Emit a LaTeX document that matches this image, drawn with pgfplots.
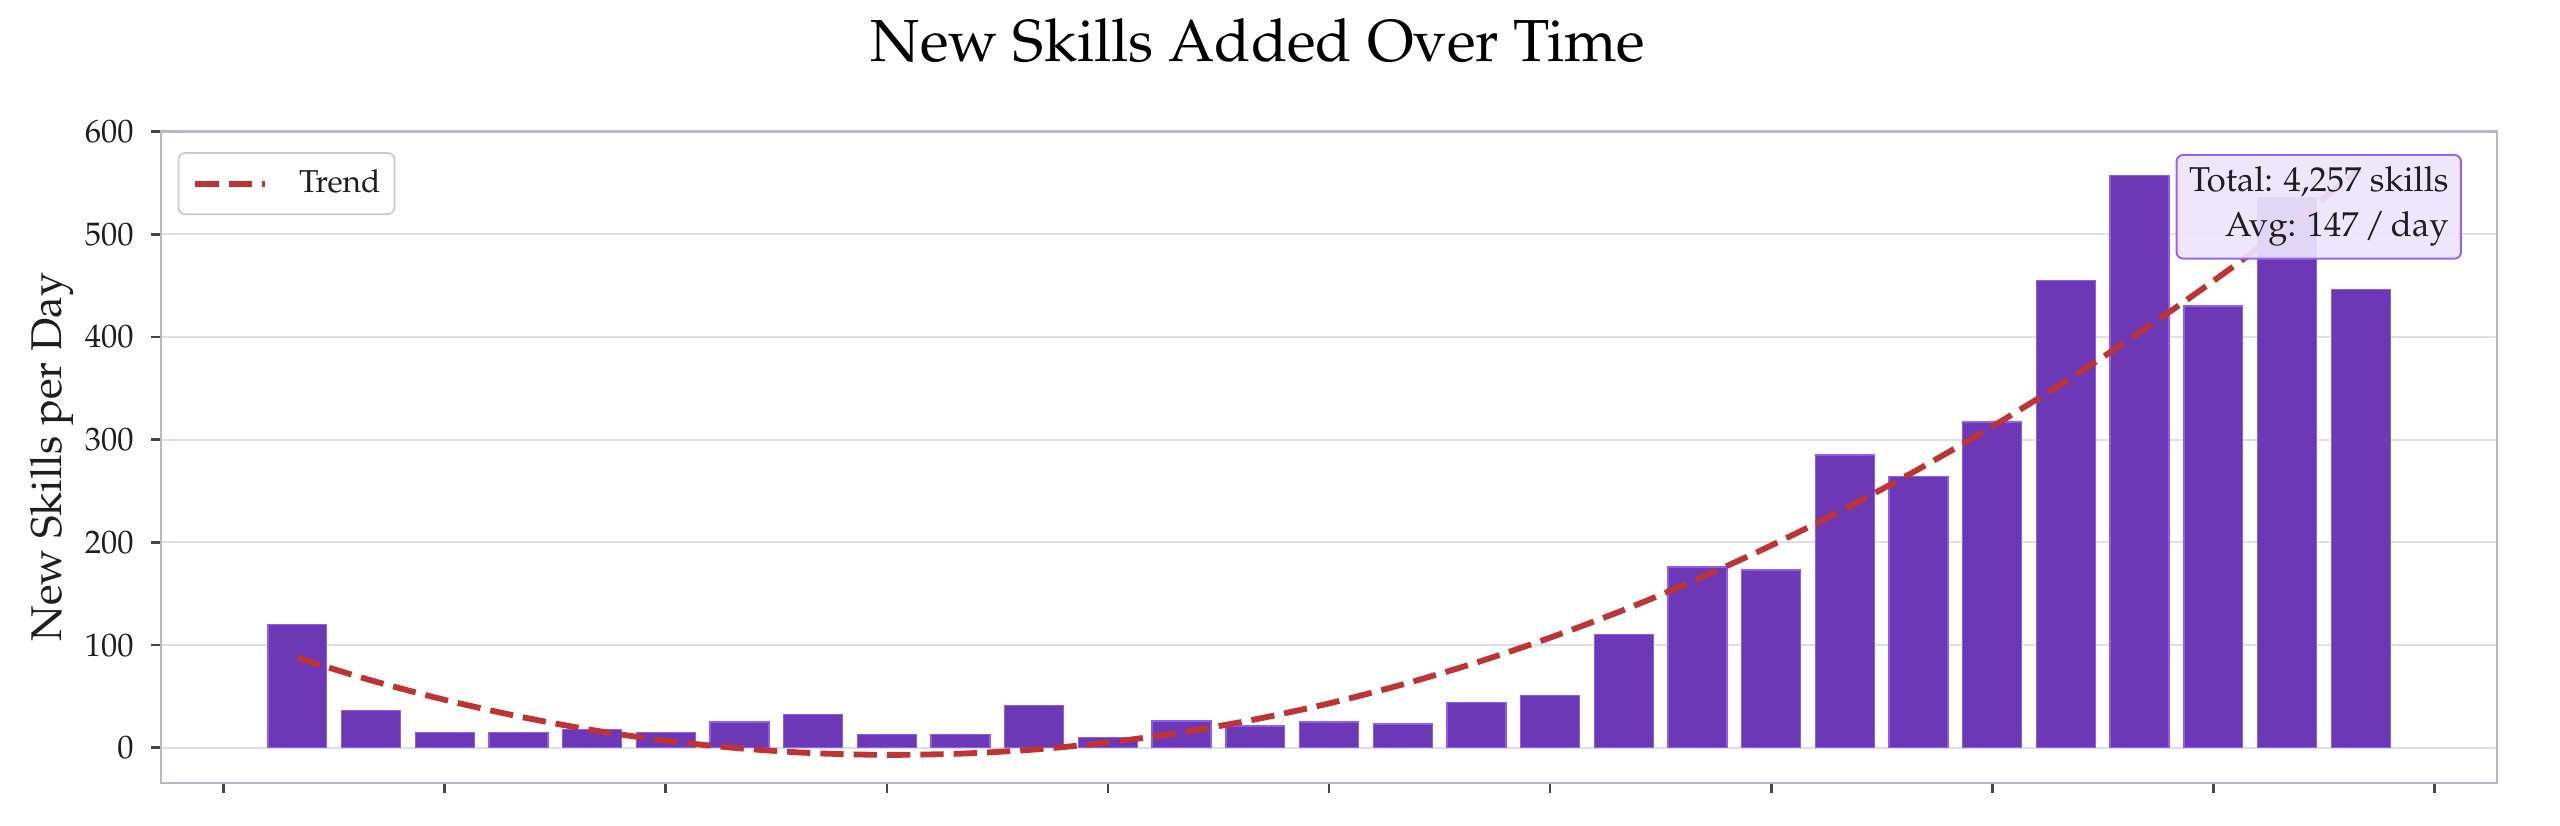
\documentclass[border=0pt]{standalone}
\usepackage[T1]{fontenc}
\usepackage{mathpazo}
\usepackage{pgfplots}
\usepackage{pgfplotstable}
\pgfplotsset{compat=1.18}

\definecolor{barfill}{RGB}{108,56,182}
\definecolor{baredge}{RGB}{139,92,246}
\definecolor{trendred}{RGB}{190,52,52}
\definecolor{spine}{RGB}{184,184,198}
\definecolor{gridc}{RGB}{222,222,230}
\definecolor{tickc}{RGB}{70,70,70}
\definecolor{txt}{RGB}{30,30,30}
\definecolor{boxfill}{RGB}{237,228,252}
\definecolor{boxedge}{RGB}{150,100,240}
\definecolor{legedge}{RGB}{200,200,212}

% new skills per day (day index from first day)
\pgfplotstableread{
day skills
0 120
1 36
2 15
3 15
4 18
5 15
6 25
7 32
8 13
9 13
10 41
11 10
12 26
13 21
14 25
15 23
16 44
17 51
18 110
19 176
20 173
21 285
22 264
23 317
24 455
25 557
26 430
27 536
28 446
}\skillsdata

% trend line
\pgfplotstableread{
day trend
0 87.5
1 65.6
2 46.6
3 30.5
4 17.2
5 6.8
6 -0.6
7 -5.3
8 -7.0
9 -5.8
10 -1.8
11 5.1
12 14.9
13 27.6
14 43.1
15 61.6
16 82.9
17 107.1
18 134.1
19 164.1
20 196.9
21 232.6
22 271.2
23 312.7
24 357.0
25 404.3
26 454.4
27 507.4
28 563.3
}\trenddata

\begin{document}
\begin{tikzpicture}
\begin{axis}[
  scale only axis,
  width=700.8pt, height=195.45pt,
  xmin=-1.85, xmax=29.85,
  ymin=-34.4, ymax=600,
  xtick={-1,2,...,29},
  xticklabels={},
  ytick={0,100,...,600},
  tick align=outside,
  xtick pos=left, ytick pos=left,
  major tick length=3pt,
  every tick/.style={tickc, line width=0.8pt},
  axis line style={spine, line width=0.75pt},
  ymajorgrids,
  grid style={gridc, line width=0.6pt},
  yticklabel style={font=\fontsize{9.75}{11}\selectfont, text=txt, anchor=east, inner sep=0pt, xshift=-5pt},
  legend style={
    at={(axis description cs:0,1)}, anchor=north west,
    xshift=5pt, yshift=-6.2pt,
    draw=legedge, line width=0.5pt, rounded corners=2pt,
    fill=white,
    inner xsep=4.2pt, inner ysep=5pt,
    font=\fontsize{9.5}{11}\selectfont,
    text=txt,
    nodes={inner sep=0pt},
    column sep=9.2pt,
  },
  legend image code/.code={\draw[#1] (0pt,0pt) -- (21pt,0pt);},
]
\addplot[ybar, bar width=0.8, fill=barfill, draw=baredge, line width=0.4pt, forget plot]
  table[x=day, y=skills] {\skillsdata};
\addplot[trendred, line width=1.75pt, dash pattern=on 7pt off 3pt, smooth]
  table[x=day, y=trend] {\trenddata};
\addlegendentry{Trend}

\node[anchor=north east, align=right, draw=boxedge, line width=0.6pt,
      rounded corners=2pt, fill=boxfill, fill opacity=0.92, text opacity=1,
      text=txt, inner xsep=3.75pt, inner ysep=3.6pt,
      font=\fontsize{10.35}{13.5}\selectfont]
  at (rel axis cs:0.985,0.9655) {Total: 4,257 skills\\Avg: 147\,/\,day};
\end{axis}

\node[anchor=base, text=black, font=\fontsize{17.8}{22}\selectfont]
  at ([xshift=329.1pt, yshift=20.85pt]current axis.north west) {New Skills Added Over Time};
\node[rotate=90, anchor=base, text=txt, font=\fontsize{12.9}{15}\selectfont]
  at ([xshift=-29.7pt]current axis.west) {New Skills per Day};

\pgfresetboundingbox
\path ([xshift=-48.3pt, yshift=-12.6pt]current axis.south west)
  rectangle ([xshift=18.9pt, yshift=39.45pt]current axis.north east);
\end{tikzpicture}
\end{document}
